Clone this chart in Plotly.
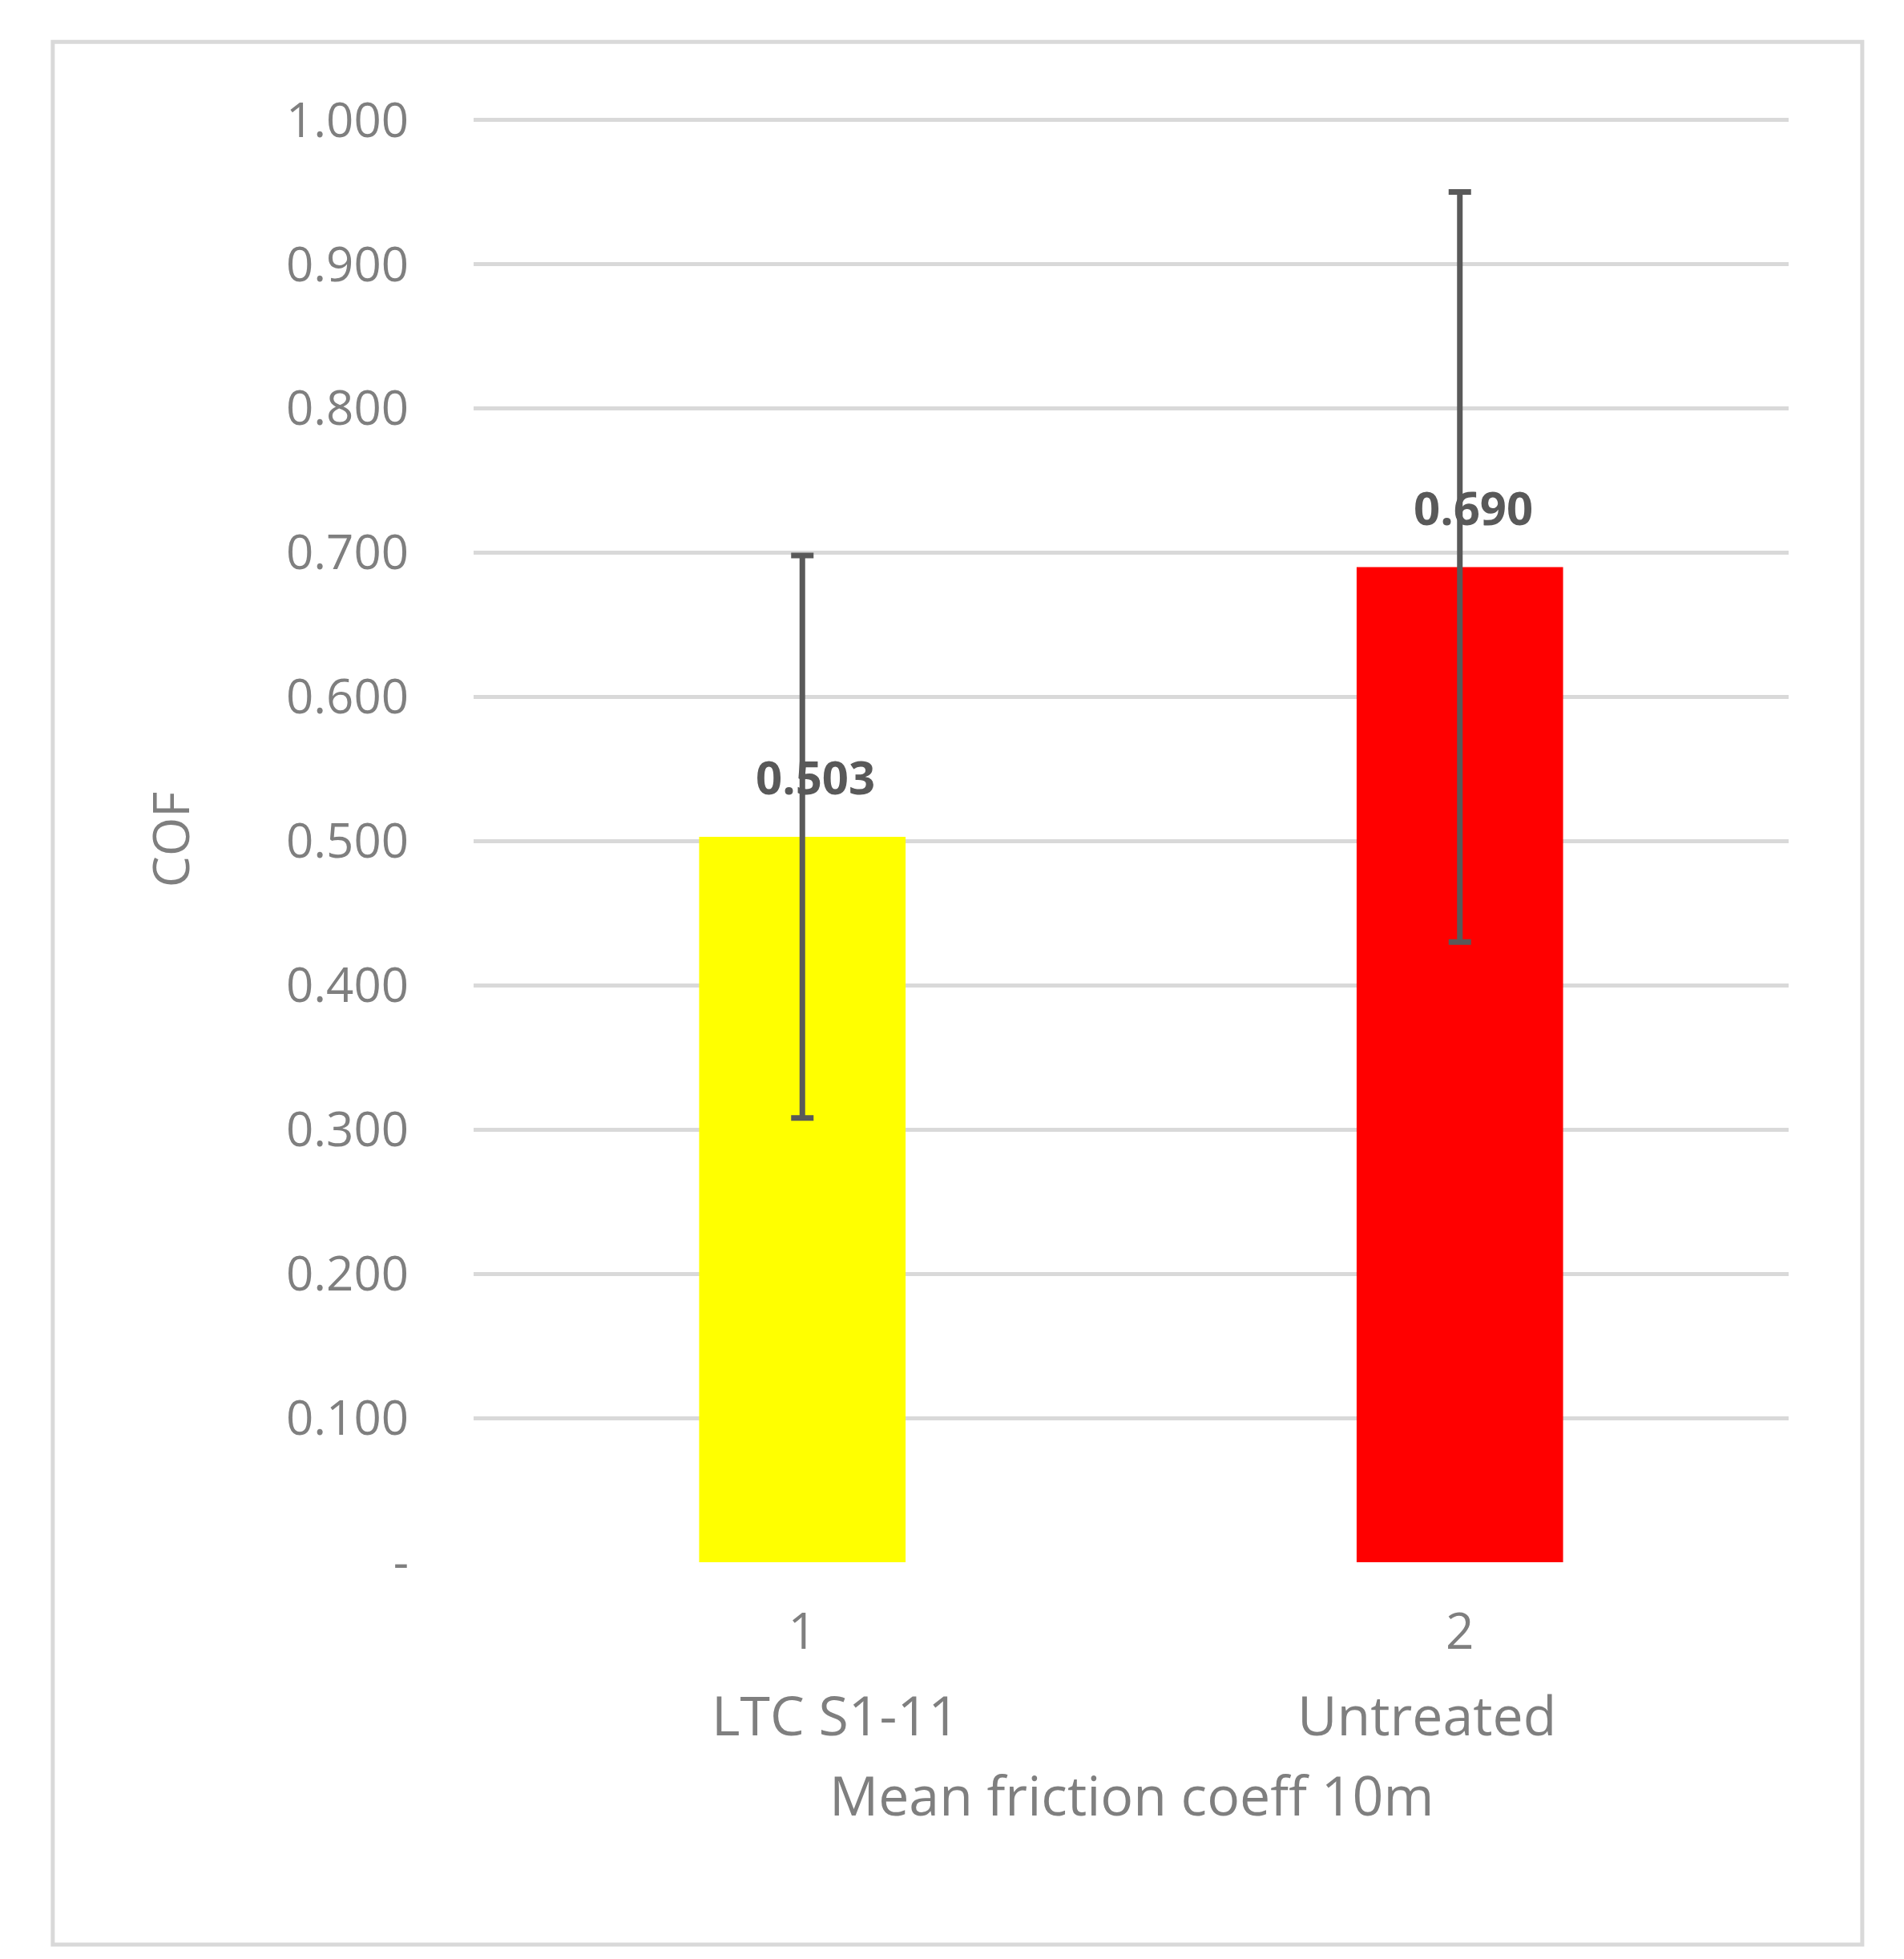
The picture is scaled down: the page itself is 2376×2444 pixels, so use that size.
import plotly.graph_objects as go

# Data
categories = ['LTC S1-11', 'Untreated']
positions = [1, 2]
cof_mean = [0.503, 0.690]
cof_err = [0.195, 0.26]
bar_colors = ['#FFFF00', '#FF0000']
tick_vals = [0, 0.1, 0.2, 0.3, 0.4, 0.5, 0.6, 0.7, 0.8, 0.9, 1.0]
tick_text = ['-'] + ['{:.3f}'.format(v) for v in tick_vals[1:]]

FONT = 'Open Sans'
GREY = '#595959'
TXT = '#7f7f7f'

fig = go.Figure()
fig.add_trace(
    go.Bar(
        x=positions, y=cof_mean, width=0.314,
        marker=dict(color=bar_colors, line=dict(width=0)),
        error_y=dict(type='data', array=cof_err, visible=True,
                     color=GREY, thickness=7, width=14),
    )
)

# Data labels (bold, above the bar)
for x, y in zip(positions, cof_mean):
    fig.add_annotation(x=x + 0.02, y=y, yshift=75, text='<b>{:.3f}</b>'.format(y),
                       showarrow=False, font=dict(family=FONT, size=58, color=GREY))

# Second row of category labels
for x, name in zip(positions, categories):
    fig.add_annotation(x=x - 0.05 if x == 2 else x + 0.05, y=0, yref='paper',
                       yshift=-238, text=name, showarrow=False,
                       font=dict(family=FONT, size=68, color=TXT))

fig.add_annotation(x=0.5, xref='paper', y=0, yref='paper', yshift=-338,
                   text='Mean friction coeff 10m', showarrow=False,
                   font=dict(family=FONT, size=68, color=TXT))

# Outer border
fig.add_shape(type='rect', xref='paper', yref='paper',
              x0=-0.32, x1=1.056, y0=-0.2646, y1=1.052,
              line=dict(color='#d9d9d9', width=5))

fig.update_xaxes(range=[0.5, 2.5], tickvals=positions, ticktext=['1', '2'],
                 showgrid=False, zeroline=False, showline=False,
                 tickfont=dict(family=FONT, size=62, color=TXT), ticklen=0,
                 ticklabelstandoff=45)
fig.update_yaxes(range=[0, 1.002], tickvals=tick_vals, ticktext=tick_text,
                 gridcolor='#d9d9d9', gridwidth=5, zeroline=False,
                 tickfont=dict(family=FONT, size=60, color=TXT), ticklen=0,
                 ticklabelstandoff=80,
                 title=dict(text='COF', standoff=100,
                            font=dict(family=FONT, size=62, color=TXT)))
fig.update_layout(
    width=2376, height=2444,
    paper_bgcolor='white', plot_bgcolor='white',
    margin=dict(l=583, r=152, t=138, b=503),
    showlegend=False,
)
fig.write_html('out.html')
